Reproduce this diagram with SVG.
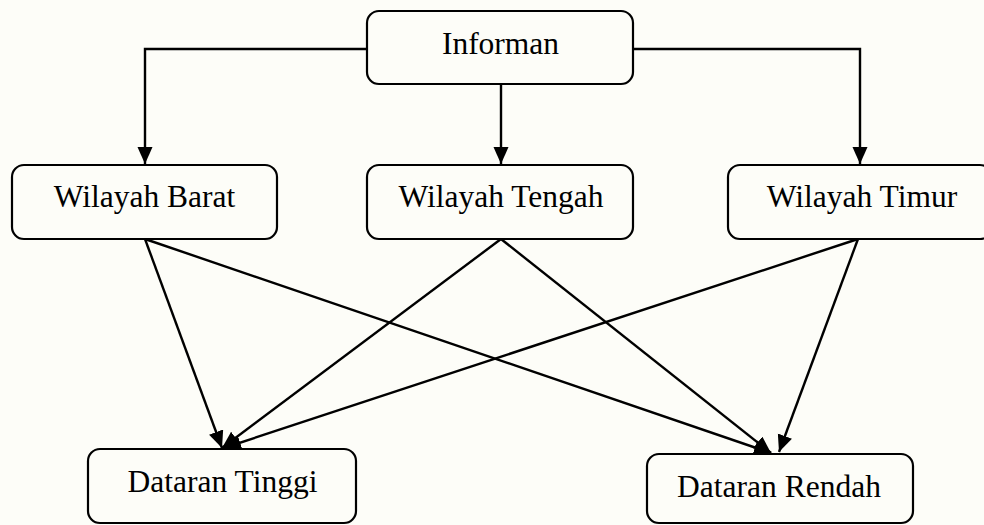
<svg xmlns="http://www.w3.org/2000/svg" width="984" height="525" viewBox="0 0 984 525">
<style>
.box{fill:#fdfdf8;stroke:#000;stroke-width:2.2}
.lbl{font-family:"Liberation Serif","Times New Roman",serif;font-size:31.5px;fill:#000;text-anchor:middle}
.ln{fill:none;stroke:#000;stroke-width:2.4}
</style>
<defs>
<marker id="ah" markerUnits="userSpaceOnUse" markerWidth="18" markerHeight="16" refX="17" refY="7.5" orient="auto">
<path d="M0,0 L17,7.5 L0,15 z" fill="#000"/>
</marker>
</defs>
<rect width="984" height="525" fill="#fdfdf8"/>
<g id="connectors">
<polyline class="ln" points="367,49 145,49 145,164" marker-end="url(#ah)"/>
<line class="ln" x1="501" y1="84" x2="501" y2="164" marker-end="url(#ah)"/>
<polyline class="ln" points="633,49 860,49 860,164" marker-end="url(#ah)"/>
<line class="ln" x1="145" y1="239" x2="222" y2="448" marker-end="url(#ah)"/>
<line class="ln" x1="145" y1="239" x2="771" y2="453" marker-end="url(#ah)"/>
<line class="ln" x1="501" y1="239" x2="222" y2="448" marker-end="url(#ah)"/>
<line class="ln" x1="501" y1="239" x2="771" y2="453" marker-end="url(#ah)"/>
<line class="ln" x1="858" y1="239" x2="224" y2="448" marker-end="url(#ah)"/>
<line class="ln" x1="858" y1="239" x2="779" y2="452" marker-end="url(#ah)"/>
</g>
<g id="informan">
<rect class="box" x="367" y="11" width="266" height="73" rx="12"/>
<text class="lbl" x="500.5" y="54">Informan</text>
</g>
<g id="wilayah-barat">
<rect class="box" x="12" y="165" width="265" height="74" rx="12"/>
<text class="lbl" x="144.5" y="207">Wilayah Barat</text>
</g>
<g id="wilayah-tengah">
<rect class="box" x="367" y="165" width="266" height="74" rx="12"/>
<text class="lbl" x="501" y="207">Wilayah Tengah</text>
</g>
<g id="wilayah-timur">
<rect class="box" x="728" y="165" width="264" height="74" rx="12"/>
<text class="lbl" x="862" y="207">Wilayah Timur</text>
</g>
<g id="dataran-tinggi">
<rect class="box" x="88" y="449" width="268" height="74" rx="12"/>
<text class="lbl" x="222.5" y="492">Dataran Tinggi</text>
</g>
<g id="dataran-rendah">
<rect class="box" x="647" y="454" width="266" height="69" rx="12"/>
<text class="lbl" x="779" y="497">Dataran Rendah</text>
</g>
</svg>
